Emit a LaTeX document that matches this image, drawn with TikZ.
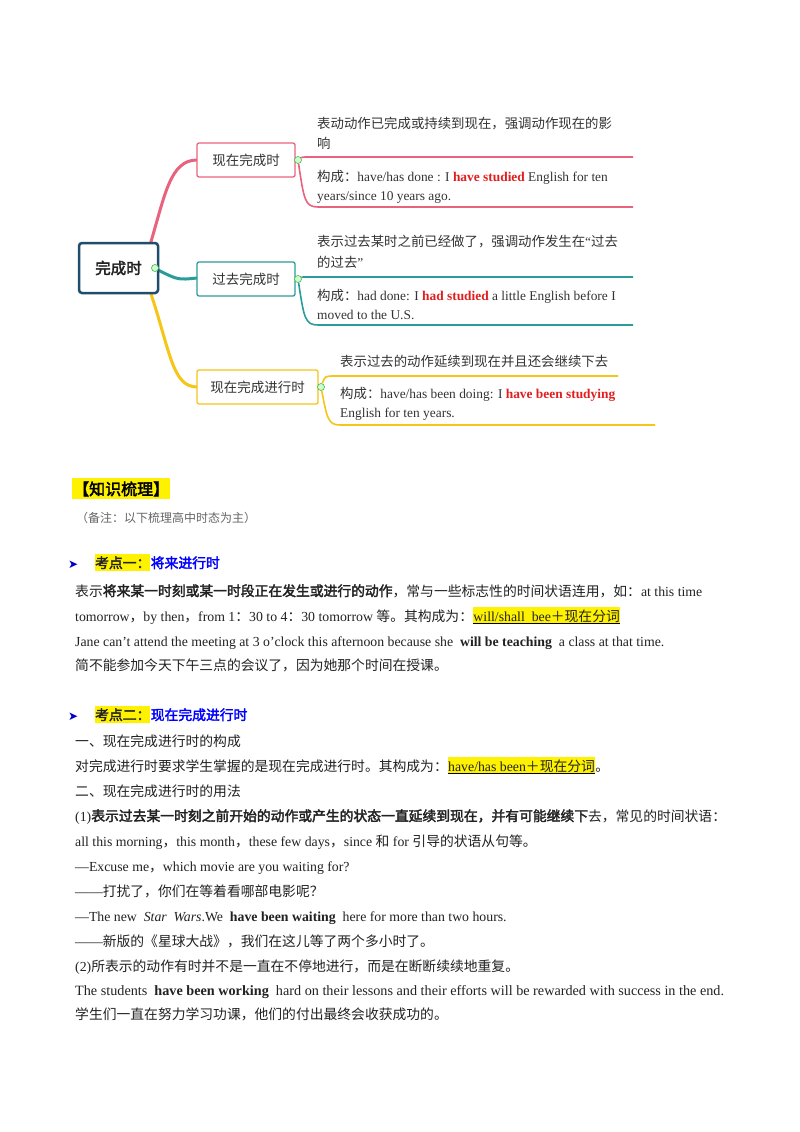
\documentclass[tikz,border=0pt]{standalone}
\usepackage{fontspec}
\setmainfont{Liberation Serif}
\newfontfamily\cjk{Noto Sans CJK SC}[AutoFakeBold=2.5]
\newfontfamily\sym{DejaVu Sans}
\newcommand{\z}[1]{{\cjk #1}}
\definecolor{pinkc}{HTML}{E8637E}
\definecolor{tealc}{HTML}{2A9D9A}
\definecolor{yelc}{HTML}{F5C518}
\definecolor{rootc}{HTML}{1F4D6B}
\definecolor{redt}{HTML}{E02020}
\definecolor{txt}{HTML}{222222}
\definecolor{leaft}{HTML}{333333}
\tikzset{
  tl/.style={anchor=base west,inner sep=0pt,text=txt,font=\fontsize{13.8}{16}\selectfont},
  lf/.style={anchor=base west,inner sep=0pt,text=leaft,font=\fontsize{13.4}{16}\selectfont},
  hl/.style={anchor=base west,inner sep=0pt,fill=yellow,text=txt,font=\fontsize{13.8}{16}\selectfont},
  br/.style={draw,line width=1.3pt,rounded corners=2pt,fill=white,minimum height=34pt,text=leaft,font=\cjk\fontsize{13.5}{16}\selectfont},
  knob/.style={circle,draw=green!40!gray,fill=green!20,inner sep=0pt,minimum size=7pt,line width=0.6pt},
  bl/.style={line width=1.6pt},
  bul/.style={anchor=base west,inner sep=0pt,text=blue!80!black,font=\sym\fontsize{12}{14}\selectfont},
  hd/.style={font=\cjk\bfseries\fontsize{13.8}{16}\selectfont},
}
\begin{document}
\begin{tikzpicture}[x=1pt,y=-1pt]
\useasboundingbox[fill=white] (0,0) rectangle (800,1132);
% ---- mind map ----
\draw[pinkc,line width=3pt] (150,245) .. controls (165,195) and (170,160) .. (197,160);
\draw[tealc,line width=3pt] (158,270) .. controls (178,280) .. (197,278);
\draw[yelc,line width=3pt] (150,291) .. controls (170,350) and (172,387) .. (197,387);
\node[draw=rootc,line width=2.5pt,rounded corners=3pt,fill=white,minimum width=79pt,minimum height=50pt,font=\cjk\bfseries\fontsize{15.5}{18}\selectfont,text=txt] (root) at (118.5,268) {完成时};
\node[knob] (k0) at (155,268) {};
\node[br,draw=pinkc,minimum width=98pt] (b1) at (246,160) {现在完成时};
\node[br,draw=tealc,minimum width=98pt] (b2) at (246,279) {过去完成时};
\node[br,draw=yelc,minimum width=121pt] (b3) at (257.5,387) {现在完成进行时};
\node[knob] (k1) at (298,160) {};
\node[knob] (k2) at (298,279) {};
\node[knob] (k3) at (321,387) {};
\coordinate (p1e) at (633,157); \coordinate (p2e) at (633,207);
\coordinate (t1e) at (633,277); \coordinate (t2e) at (633,325);
\coordinate (y1e) at (618,376); \coordinate (y2e) at (655,425);
\draw[pinkc,bl] (k1) .. controls (302,157) .. (312,157) -- (p1e);
\draw[pinkc,bl] (k1) .. controls (304,200) and (305,207) .. (318,207) -- (p2e);
\draw[tealc,bl] (k2) .. controls (302,277) .. (312,277) -- (t1e);
\draw[tealc,bl] (k2) .. controls (304,318) and (305,325) .. (318,325) -- (t2e);
\draw[yelc,bl] (k3) .. controls (325,376) .. (335,376) -- (y1e);
\draw[yelc,bl] (k3) .. controls (327,418) and (328,425) .. (340,425) -- (y2e);
% leaf texts
\node[lf] (a1) at (317,128) {\z{表动动作已完成或持续到现在，强调动作现在的影}};
\node[lf] (a2) at (317,148) {\z{响}};
\node[lf] (a3) at (317,181) {\z{构成：}have/has done : I \textcolor{redt}{\textbf{have studied}} English for ten};
\node[lf] (a4) at (317,200) {years/since 10 years ago.};
\node[lf] (c1) at (317,246) {\z{表示过去某时之前已经做了，强调动作发生在}“\z{过去}};
\node[lf] (c2) at (317,267) {\z{的过去}”};
\node[lf] (c3) at (317,300) {\z{构成：}had done: I \textcolor{redt}{\textbf{had studied}} a little English before I};
\node[lf] (c4) at (317,319) {moved to the  U.S.};
\node[lf] (d1) at (340,366) {\z{表示过去的动作延续到现在并且还会继续下去}};
\node[lf] (d2) at (340,398) {\z{构成：}have/has been doing: I \textcolor{redt}{\textbf{have been studying}}};
\node[lf] (d3) at (340,417) {English for ten years.};
% ---- knowledge section ----
\node[anchor=base west,fill=yellow,inner xsep=1pt,inner ysep=3pt,font=\cjk\bfseries\fontsize{16}{18}\selectfont,text=black] (kt) at (72,495) {【知识梳理】};
\node[tl,text=gray!80!black,font=\cjk\fontsize{12}{14}\selectfont] (note) at (76,522) {（备注：以下梳理高中时态为主）};
\node[bul] (g1) at (68,568) {➤};
\node[hl,hd,inner ysep=2pt] (h1) at (95,568) {考点一：};
\node[tl,hd,text=blue] (h1b) at (h1.base east) {将来进行时};
\node[tl] (l1) at (75,596) {\z{表示\textbf{将来某一时刻或某一时段正在发生或进行的动作}，常与一些标志性的时间状语连用，如：}at this time};
\node[tl] (l2) at (75,621) {tomorrow\z{，}by then\z{，}from 1\z{：}30 to 4\z{：}30 tomorrow \z{等。其构成为：}};
\node[hl,inner ysep=2pt] (l2h) at (l2.base east) {will/shall\ \ bee\z{＋现在分词}};
\draw[black,line width=0.6pt] ([yshift=-2pt]l2h.south west|-l2h.base) -- ([yshift=-2pt]l2h.south east|-l2h.base);
\node[tl] (l3) at (75,646) {Jane can't attend the meeting at 3 o'clock this afternoon because she \ \textbf{will be teaching}\ \ a class at that time.};
\node[tl] (l4) at (75,670) {\z{简不能参加今天下午三点的会议了，因为她那个时间在授课。}};
\node[bul] (g2) at (68,720) {➤};
\node[hl,hd,inner ysep=2pt] (h2) at (95,720) {考点二：};
\node[tl,hd,text=blue] (h2b) at (h2.base east) {现在完成进行时};
\node[tl] (m1) at (75,746) {\z{一、现在完成进行时的构成}};
\node[tl] (m2) at (75,771) {\z{对完成进行时要求学生掌握的是现在完成进行时。其构成为：}};
\node[hl,inner ysep=2pt] (m2h) at (m2.base east) {have/has been\z{＋现在分词}};
\node[tl] (m2t) at (m2h.base east) {\z{。}};
\draw[black,line width=0.6pt] ([yshift=-2pt]m2h.south west|-m2h.base) -- ([yshift=-2pt]m2h.south east|-m2h.base);
\node[tl] (m3) at (75,796) {\z{二、现在完成进行时的用法}};
\node[tl] (m4) at (75,821) {(1)\z{\textbf{表示过去某一时刻之前开始的动作或产生的状态一直延续到现在，并有可能继续下}去，常见的时间状语：}};
\node[tl] (m5) at (75,846) {all this morning\z{，}this month\z{，}these few days\z{，}since \z{和} for \z{引导的状语从句等。}};
\node[tl] (m6) at (75,871) {—Excuse me\z{，}which movie are you waiting for?};
\node[tl] (m7) at (75,896) {——\z{打扰了，你们在等着看哪部电影呢？}};
\node[tl] (m8) at (75,921) {—The new \ \textit{Star\ \ Wars}.We \ \textbf{have been waiting}\ \ here for more than two hours.};
\node[tl] (m9) at (75,946) {——\z{新版的《星球大战》，我们在这儿等了两个多小时了。}};
\node[tl] (m10) at (75,971) {(2)\z{所表示的动作有时并不是一直在不停地进行，而是在断断续续地重复。}};
\node[tl,font=\fontsize{14.2}{16}\selectfont] (m11) at (75,995) {The students \ \textbf{have been working}\ \ hard on their lessons and their efforts will be rewarded with success in the end.};
\node[tl] (m12) at (75,1019) {\z{学生们一直在努力学习功课，他们的付出最终会收获成功的。}};
\end{tikzpicture}
\end{document}
